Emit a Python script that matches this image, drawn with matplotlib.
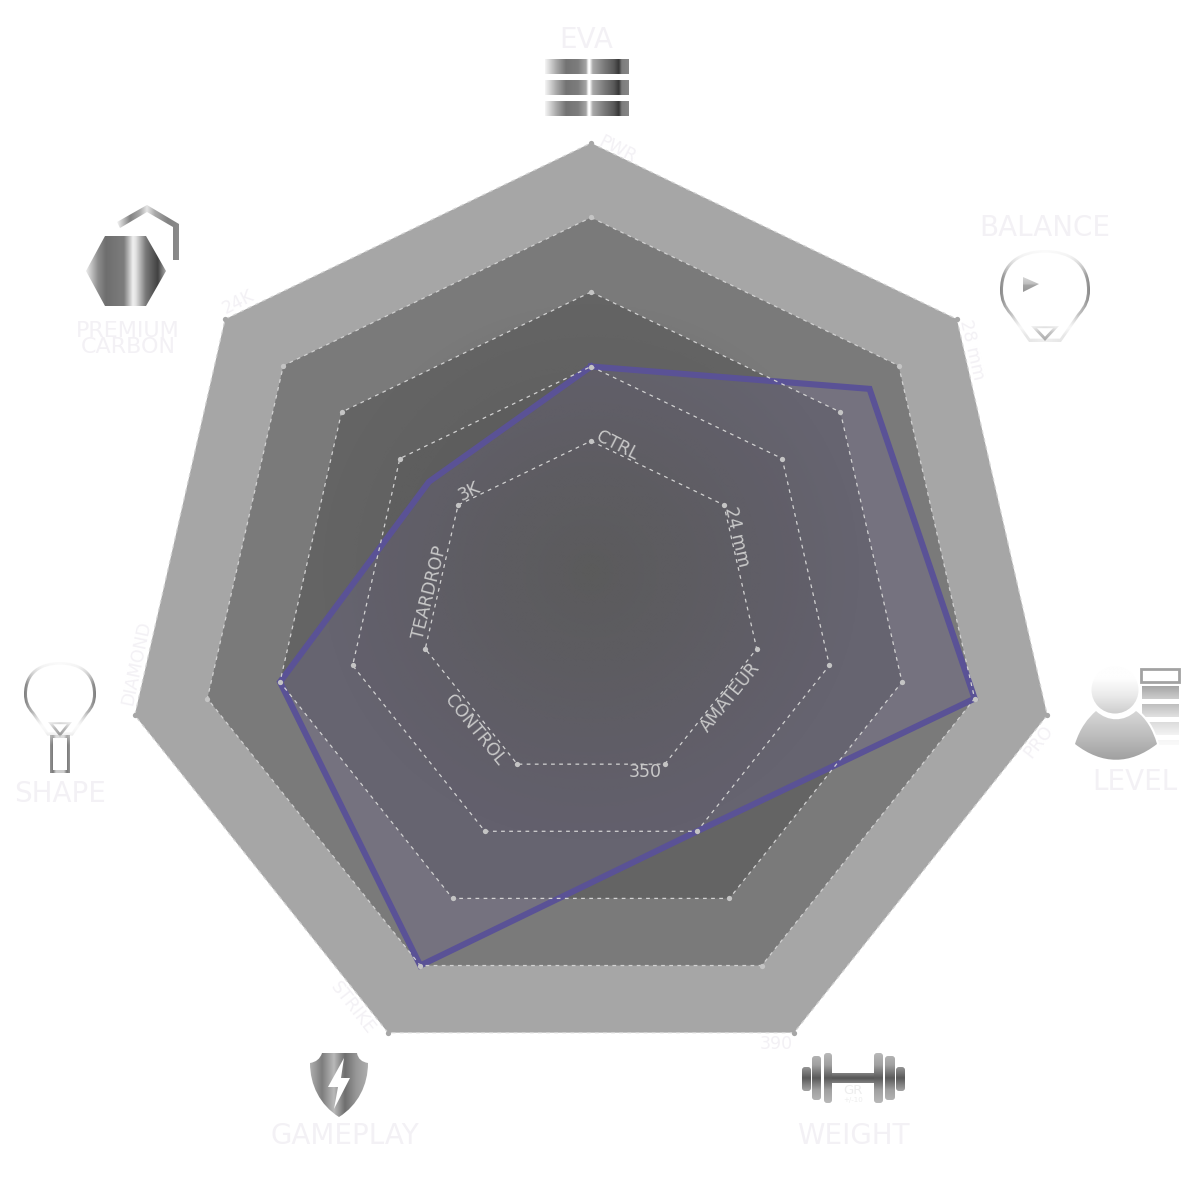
import numpy as np
import matplotlib
matplotlib.use('Agg')
import matplotlib.pyplot as plt
from matplotlib.path import Path
from matplotlib.patches import PathPatch, Polygon, FancyBboxPatch, Circle, Rectangle

# axes of the radar, clockwise from the top
categories = ['EVA', 'BALANCE', 'LEVEL', 'WEIGHT', 'GAMEPLAY', 'SHAPE', 'PREMIUM\nCARBON']
values = [2, 3.5, 4, 2, 4, 3, 1.5]
levels = [5, 4, 3, 2, 1]
level_colors = ['#a6a6a6', '#7a7a7a', '#646464', '#5f5f5f', '#5d5d5d']
inner_labels = ['CTRL', '24 mm', 'AMATEUR', '350', 'CONTROL', 'TEARDROP', '3K']
outer_labels = ['PWR', '28 mm', 'PRO', '390', 'STRIKE', 'DIAMOND', '24K']

FAINT = '#f3f1f5'
cx, cy, R = 591, 611, 468
r_min = 1 - 170 / 74.5


def metal(ax, patch, box, h=None, v=None, fade=None, z=4):
    # grey gradient image clipped to a patch
    x0, x1, y0, y1 = box
    xs = np.linspace(x0, x1, 300)
    ys = np.linspace(y0, y1, 300)
    xx, yy = np.meshgrid(xs, ys)
    if h is not None:
        g = np.interp(xx, [s[0] for s in h], [s[1] for s in h])
    else:
        g = np.interp(yy, [s[0] for s in v], [s[1] for s in v])
    a = np.ones_like(g)
    if fade is not None:
        a = np.interp(yy, [s[0] for s in fade], [s[1] for s in fade])
    rgba = np.dstack([g / 255, g / 255, g / 255, a])
    im = ax.imshow(rgba, extent=(x0, x1, y1, y0), origin='upper', aspect='auto', zorder=z, interpolation='bilinear')
    patch.set_facecolor('none')
    patch.set_edgecolor('none')
    ax.add_patch(patch)
    im.set_clip_path(patch)


def poly_path(points):
    return Path(list(points) + [points[0]], closed=True)


def rings(*loops):
    # compound path out of closed loops, holes given in reverse order
    return Path.make_compound_path(*[poly_path(list(p)) for p in loops])


def paddle(x, top, sx, sy):
    verts = [(-16, 92), (-35, 65), (-42, 57), (-45, 50), (-45, 40), (-45, 12), (-25, 0), (0, 0),
             (25, 0), (45, 12), (45, 40), (45, 50), (42, 57), (35, 65), (16, 92), (-16, 92)]
    codes = [Path.MOVETO, Path.LINETO, Path.CURVE4, Path.CURVE4, Path.CURVE4, Path.CURVE4, Path.CURVE4, Path.CURVE4,
             Path.CURVE4, Path.CURVE4, Path.CURVE4, Path.CURVE4, Path.CURVE4, Path.LINETO, Path.LINETO, Path.LINETO]
    poly = Path(verts, codes).to_polygons(closed_only=False)[0]
    outer = np.column_stack([x + poly[:, 0] * sx, top + poly[:, 1] * sy])
    k_x = 1 - 3.0 / (45 * sx)
    k_y = 1 - 3.0 / (46 * sy)
    inner = np.column_stack([x + poly[:, 0] * sx * k_x, top + (40 + (poly[:, 1] - 40) * k_y) * sy])
    return rings(outer[:-1], inner[:-1][::-1])


def tri_ring(a, b, c, t=3):
    m = (np.array(a) + np.array(b) + np.array(c)) / 3
    pts = np.array([a, b, c], dtype=float)
    inner = m + (pts - m) * (1 - 2 * t / 14)
    return rings(pts, inner[::-1])


def draw_icons(ax):
    # EVA
    eva_h = [(545, 245), (556, 170), (566, 115), (578, 125), (586, 165), (588, 250), (590, 255), (593, 170),
             (605, 120), (614, 90), (619, 55), (622, 125), (629, 135)]
    for top in [59, 80, 101]:
        for x0, x1 in [(545, 588.8), (590.2, 629)]:
            metal(ax, Rectangle((x0, top), x1 - x0, 15), (545, 629, 59, 116), h=eva_h)

    # premium carbon
    hexagon = [(86, 271), (105, 236), (146, 236), (166, 271), (146, 306), (105, 306)]
    metal(ax, PathPatch(poly_path(hexagon)), (86, 166, 236, 306),
          h=[(86, 235), (98, 140), (106, 110), (124, 125), (130, 200), (133, 240), (136, 225), (146, 120), (158, 65), (166, 170)])
    roof = [(117, 222), (147, 205), (179, 224), (179, 260), (173, 260), (173, 227), (147, 212), (120, 228)]
    metal(ax, PathPatch(poly_path(roof)), (117, 179, 205, 260),
          h=[(117, 245), (130, 130), (140, 170), (147, 230), (155, 170), (168, 130), (179, 140)])

    # balance
    head_h = [(1000, 135), (1006, 175), (1020, 225), (1045, 240), (1070, 225), (1084, 175), (1090, 135)]
    metal(ax, PathPatch(paddle(1045, 250, 1.0, 1.0)), (1000, 1090, 250, 342), h=head_h,
          fade=[(250, .25), (262, .55), (275, 1), (315, 1), (328, .25), (336, .9), (342, 1)])
    metal(ax, PathPatch(tri_ring((1031, 326), (1059, 326), (1045, 341))), (1031, 1059, 326, 341),
          h=[(1031, 200), (1045, 170), (1059, 200)], fade=[(326, .2), (332, .8), (341, 1)])
    metal(ax, Polygon([(1023, 277), (1039, 284), (1023, 292)]), (1023, 1039, 277, 292),
          v=[(277, 215), (284, 190), (285, 165), (292, 150)])

    # level
    bars = [(686, 699, 165, 205), (704, 717, 190, 225), (722, 735, 220, 243), (740, 745, 246, 250)]
    ax.add_patch(Rectangle((1141, 669), 38, 13, fc='white', ec='#a2a2a2', lw=2, zorder=4))
    for y0, y1, g0, g1 in bars:
        metal(ax, Rectangle((1142, y0), 37, y1 - y0), (1142, 1179, y0, y1), v=[(y0, g0), (y1, g1)])
    body = Path([(1075, 744), (1080, 728), (1088, 718), (1096, 711), (1108, 722), (1124, 722), (1136, 711),
                 (1146, 718), (1153, 730), (1157, 744), (1130, 765), (1102, 765), (1075, 744)],
                [Path.MOVETO, Path.CURVE4, Path.CURVE4, Path.CURVE4, Path.CURVE4, Path.CURVE4, Path.CURVE4,
                 Path.CURVE4, Path.CURVE4, Path.CURVE4, Path.CURVE4, Path.CURVE4, Path.CURVE4])
    ax.add_patch(PathPatch(body, fc='none', ec='white', lw=3, zorder=4.5))
    metal(ax, PathPatch(body), (1075, 1157, 711, 760), v=[(711, 215), (735, 190), (760, 160)], z=5)
    metal(ax, Circle((1115, 690), 23.5), (1091, 1139, 666, 714), v=[(678, 254), (695, 235), (714, 205)], z=5)

    # weight
    plates = [(802, 811, 1067, 1091), (812, 821, 1056, 1100), (824, 832, 1053, 1103),
              (874, 883, 1053, 1103), (885, 895, 1056, 1100), (896, 905, 1067, 1091)]
    weight_v = [(1053, 185), (1065, 160), (1078, 90), (1090, 160), (1103, 185)]
    for x0, x1, y0, y1 in plates:
        box = FancyBboxPatch((x0 + 3, y0 + 3), x1 - x0 - 6, y1 - y0 - 6, boxstyle='round,pad=3')
        metal(ax, box, (x0, x1, y0, y1), v=weight_v)
    metal(ax, Rectangle((832, 1073), 42, 10), (832, 874, 1073, 1083), v=[(1073, 130), (1078, 85), (1083, 130)])

    # gameplay
    shield = Path([(322, 1053), (357, 1053), (358, 1059), (362, 1062), (368, 1063), (368, 1085), (358, 1105), (339, 1117),
                   (320, 1105), (310, 1085), (310, 1063), (316, 1062), (320, 1059), (322, 1053)],
                  [Path.MOVETO, Path.LINETO, Path.CURVE4, Path.CURVE4, Path.CURVE4, Path.CURVE4, Path.CURVE4, Path.CURVE4,
                   Path.CURVE4, Path.CURVE4, Path.CURVE4, Path.CURVE4, Path.CURVE4, Path.CURVE4])
    metal(ax, PathPatch(shield), (310, 368, 1053, 1117),
          h=[(310, 175), (322, 125), (334, 185), (345, 110), (356, 150), (368, 175)])
    ax.add_patch(Polygon([(344, 1058), (328, 1087), (338, 1087), (334, 1109), (350, 1078), (341, 1078)],
                         fc='white', ec='none', zorder=5))

    # shape
    metal(ax, PathPatch(paddle(60, 662, 0.8, 0.8)), (24, 96, 662, 736),
          h=[(24, 125), (30, 170), (42, 225), (60, 240), (78, 225), (90, 170), (96, 125)],
          fade=[(662, .25), (672, .55), (684, 1), (712, 1), (726, .15), (732, .3), (736, .8)])
    metal(ax, PathPatch(tri_ring((48, 722), (72, 722), (60, 737))), (48, 72, 722, 737),
          h=[(48, 200), (60, 150), (72, 200)], fade=[(722, .25), (728, .8), (737, 1)])
    handle = rings([(50, 735), (70, 735), (70, 773), (50, 773)], [(53, 770), (67, 770), (67, 738), (53, 738)])
    metal(ax, PathPatch(handle), (50, 70, 735, 773), h=[(50, 150), (53, 120), (56, 205), (64, 205), (67, 120), (70, 150)],
          fade=[(735, .6), (745, 1), (773, 1)])


def radar_axes(fig, z):
    ax = fig.add_axes([(cx - R) / 1200, 1 - (cy + R) / 1200, 2 * R / 1200, 2 * R / 1200], projection='polar', zorder=z)
    ax.set_theta_zero_location('N')
    ax.set_theta_direction(-1)
    ax.set_rlim(r_min, 5)
    ax.axis('off')
    ax.patch.set_alpha(0)
    return ax


fig = plt.figure(figsize=(12, 12), dpi=100, facecolor='white')

angles = np.linspace(0, 2 * np.pi, len(categories), endpoint=False)
closed = np.append(angles, angles[0])
vals = np.array(values + values[:1])

# bottom radar: the filled levels and the tinted area of the series
polar = radar_axes(fig, 1)
for lev, col in zip(levels, level_colors):
    polar.fill(closed, [lev] * len(closed), color=col, lw=0, zorder=2, clip_on=False)
polar.fill(closed, vals, color='#6c6489', alpha=0.35, lw=0, zorder=3, clip_on=False)

# grey glow round the middle, takes the tint out towards the centre
glow_ax = fig.add_axes([0, 0, 1, 1], zorder=2)
glow_ax.patch.set_alpha(0)
glow_ax.axis('off')
gx, gy = np.meshgrid(np.linspace(300, 880, 300), np.linspace(280, 860, 300))
dist = np.hypot(gx - 591, gy - 572)
glow = np.zeros(gx.shape + (4,))
glow[..., :3] = 0x5b / 255
glow[..., 3] = np.interp(dist, [0, 30, 100, 180, 270], [1.0, 0.82, 0.62, 0.3, 0])
glow_ax.imshow(glow, extent=(300, 880, 860, 280), origin='upper', aspect='auto')
glow_ax.set_xlim(0, 1200)
glow_ax.set_ylim(1200, 0)

# top radar: series line and the dashed levels
top = radar_axes(fig, 3)
top.plot(closed, vals, color='#5a5296', lw=4.4, zorder=4, clip_on=False, solid_joinstyle='miter')
for lev in levels:
    dot_col = '#a6a6a6' if lev == 5 else '#c4c4c4'
    top.plot(closed, [lev] * len(closed), color='#d2d2d2', lw=0.9, ls=(0, (3, 3.5)), zorder=5, clip_on=False)
    top.plot(angles, [lev] * len(angles), ls='none', marker='o', ms=3.8, color=dot_col, mew=0, zorder=6, clip_on=False)

# icons and texts in picture pixels
over = fig.add_axes([0, 0, 1, 1], zorder=4)
over.patch.set_alpha(0)
over.axis('off')

draw_icons(over)

inner_pos = [(617, 446, -27), (737, 537, -77), (730, 697, 51), (645, 772, 0), (475, 730, -51), (430, 592, 76), (469, 491, 27)]
outer_pos = [(617, 150, -27), (972, 350, -77), (1039, 742, 52), (776, 1044, 0), (353, 1008, -52), (136, 663, 78), (238, 302, 27)]
cat_pos = [(586, 40), (1045, 228), (1135, 782), (853, 1136), (345, 1136), (60, 794), (128, 339)]

for name, (x, y, rot) in zip(inner_labels, inner_pos):
    over.text(x, y, name, color='#c9c9c9', fontsize=12.5, rotation=rot, rotation_mode='anchor',
              ha='center', va='center', zorder=7)
for name, (x, y, rot) in zip(outer_labels, outer_pos):
    over.text(x, y, name, color=FAINT, fontsize=12.5, rotation=rot, rotation_mode='anchor',
              ha='center', va='center', zorder=7)
for name, (x, y) in zip(categories, cat_pos):
    size = 16 if '\n' in name else 20
    over.text(x, y, name, color=FAINT, fontsize=size, ha='center', va='center', linespacing=0.8, zorder=7)

over.text(853, 1090, 'GR', color='#ededed', fontsize=9.5, ha='center', va='center', zorder=7)
over.text(853, 1100, '+/-10', color='#ededed', fontsize=5, ha='center', va='center', zorder=7)

over.set_xlim(0, 1200)
over.set_ylim(1200, 0)

fig.savefig('out.png', dpi=100)
